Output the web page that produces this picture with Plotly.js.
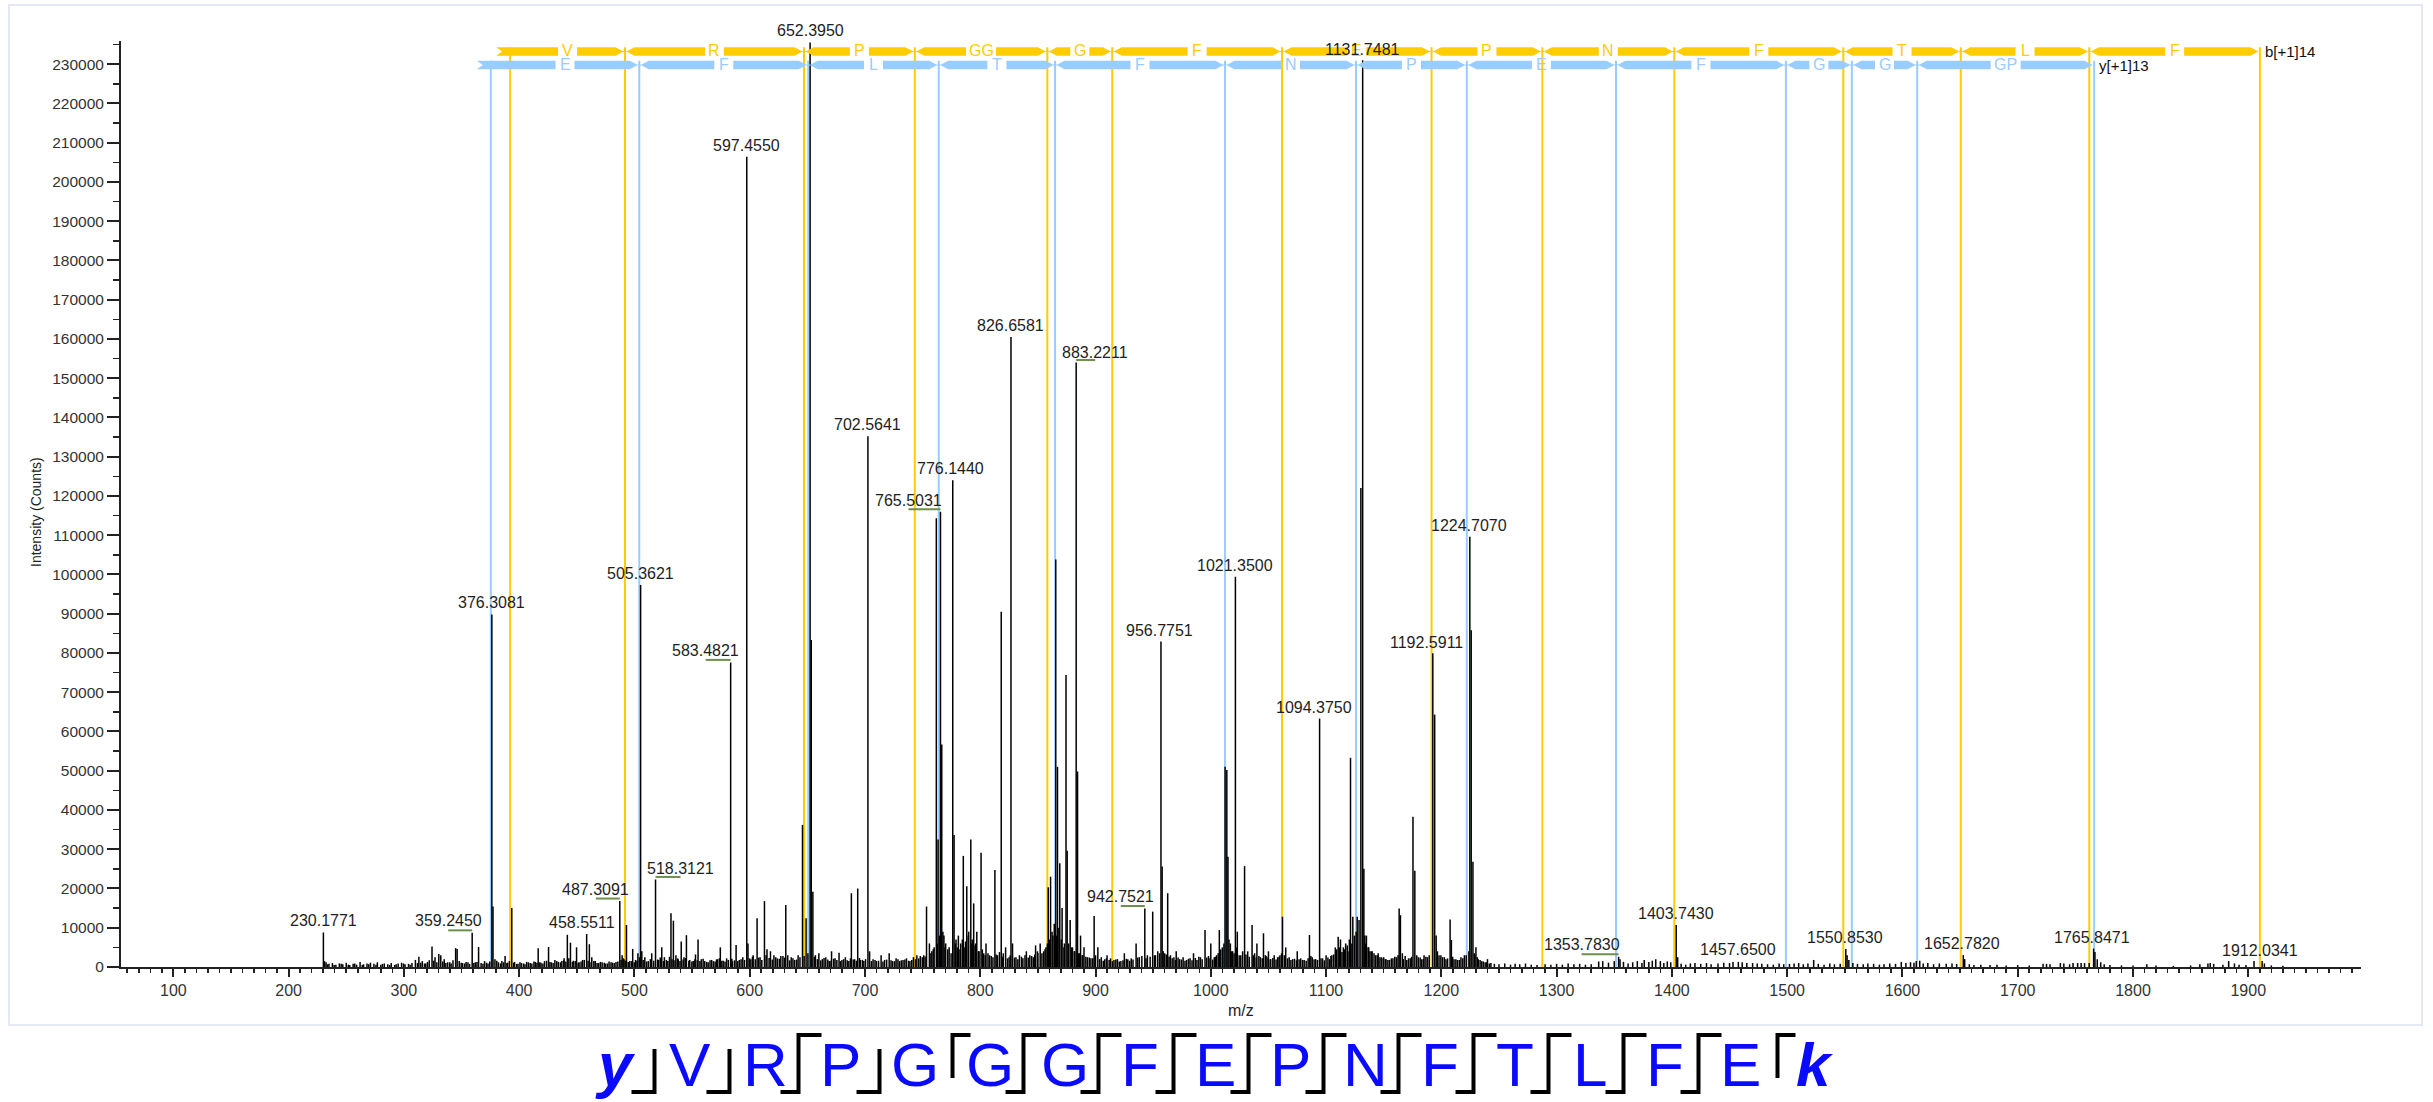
<!DOCTYPE html>
<html><head><meta charset="utf-8">
<script src="https://cdn.plot.ly/plotly-3.0.1.min.js"></script>
<style>html,body{margin:0;padding:0;background:#fff;}#chart{width:2433px;height:1102px;}</style>
</head><body><div id="chart"></div>
<script>
// ---------------- DATA ----------------
// labelled peaks (m/z as printed, intensity in counts)
const labelMz  = [230.1771,359.2450,376.3081,458.5511,487.3091,505.3621,518.3121,583.4821,597.4550,652.3950,702.5641,765.5031,776.1440,826.6581,883.2211,942.7521,956.7751,1021.3500,1094.3750,1131.7481,1192.5911,1224.7070,1353.7830,1403.7430,1457.6500,1550.8530,1652.7820,1765.8471,1912.0341];
const labelInt = [8800,8700,89800,8400,16800,97300,22300,77600,206400,235500,135200,116000,124000,160500,154000,14900,82900,99400,63300,231000,79900,109600,2600,10700,1300,4600,3050,4700,1500];
// other peaks
const peakMz  = [231.2,313.0,324.4,330.3,332.0,344.9,346.2,364.8,377.3,387.8,393.6,416.5,425.5,441.8,444.5,449.8,460.9,489.3,493.1,498.5,506.4,523.7,531.7,533.8,540.6,545.1,555.2,574.5,588.2,598.5,606.4,612.8,618,631.3,633,645.8,648.9,653.4,654.8,660,671,677.5,688.2,693.7,704,714,721,745,753.4,755.9,761.9,763.4,766.6,768.5,777.3,781,785.3,788.3,791.8,794.3,797,800.7,805,812.7,818.2,822,828,840,848,852,859,861,865.5,867,869,871,874.4,875.4,878,884.4,887,890,898.8,902,910,925,935.2,949.6,957.8,962.6,970,985,995,1000,1007.4,1012.4,1013.9,1014.9,1023,1029.3,1035.8,1040,1045.7,1050,1055,1062.2,1065,1075,1085.6,1100,1108,1110.5,1112.5,1115,1121.2,1123.2,1127,1130.2,1132.8,1135,1138,1145.2,1150,1163.4,1164.5,1175.4,1177,1185,1194.2,1195.5,1207.6,1208.7,1225.9,1227.4,1230,1240,1336.5,1355,1376,1386,1390,1405,1420,1470,1523,1552,1553.5,1612,1615,1654,1722,1737,1767,1769,1812,1867,1883,1905,1914];
const peakInt = [1500,2600,5200,3300,3000,4800,4600,5100,15400,2800,15000,4800,5100,8200,6200,5000,5800,3000,10700,4600,4000,5000,13700,11800,6500,8100,7000,5000,5600,6000,12400,16800,4000,15800,3000,36200,12400,83300,19200,3500,4000,3600,18800,20000,4000,3000,3500,3000,15400,6000,114300,32500,56700,8000,33600,8000,28300,20600,32500,16200,9000,29100,6000,24700,90500,5000,6000,4000,5500,6000,20300,23000,103800,51000,26400,15000,74400,29600,12000,49800,8000,5000,13000,5000,3000,3500,6000,14100,25600,18800,4000,3500,9400,6000,9400,51000,50200,28100,9000,25700,10700,6000,8600,4000,3000,12800,5000,4000,8150,3000,5000,7700,7000,5000,53300,12800,12800,122000,25000,8000,4000,3500,2500,14900,13200,38300,24500,3000,64300,8000,12100,6900,85800,26800,5000,2000,1400,2000,1800,2000,1500,2500,1000,1000,1800,3000,1800,1500,1600,2000,800,1000,3800,2000,700,1000,1500,1500,900];
// baseline grass (two interleaved readings)
const noiseMz = [232.5,235,238,241,244,247,250,253,256,259,262,265,268,271,274,277,280,283,286,289,292,295,298,301,304,307,310,316,319,322,327,335,338,341,348,351,354,357,362,367,370,373,379,382,385,390,396,399,402,405,408,411,414,419,422,428,431,434,437,439,447,452,455,463,466,469,472,475,478,481,484,491,496,501,503,509,512,515,521,526,529,536,538,543,548,551,553,558,561,564,567,570,572,577,580,585,591,594,601,603,609,615,621,624,627,636,639,642,657,663,666,669,674,680,683,686,691,696,699,707,710,717,724,727,730,733,736,739,742,748,751,758,760,770,773,779,783,786,790,793,796,799,803,808,811,815,820,825,831,834,837,843,846,850,855,857,863,873,880,882,886,889,893,896,900,905,908,913,916,919,922,928,931,938,945,952,954,960,965,968,973,976,979,982,988,991,998,1003,1005,1010,1017,1019,1026,1032,1038,1043,1048,1052,1058,1060,1068,1071,1078,1081,1088,1091,1097,1103,1105,1117,1119,1134,1137,1140,1143,1148,1152,1155,1158,1161,1167,1170,1173,1180,1183,1188,1198,1201,1204,1211,1214,1217,1220,1229,1232,1235,1238,1243,1246,1250,1255,1260,1264,1268,1273,1278,1283,1290,1295,1300,1305,1310,1315,1320,1325,1330,1340,1345,1350,1358,1362,1366,1370,1374,1380,1383,1393,1396,1399,1408,1412,1416,1425,1430,1434,1440,1445,1450,1453,1461,1465,1474,1478,1483,1488,1493,1497,1502,1506,1510,1514,1518,1527,1532,1537,1541,1546,1557,1561,1566,1570,1575,1580,1584,1589,1594,1599,1603,1607,1610,1618,1622,1627,1632,1638,1643,1647,1658,1662,1668,1676,1682,1690,1700,1710,1725,1728,1740,1745,1748,1752,1755,1758,1762,1772,1775,1780,1790,1800,1820,1835,1850,1858,1865,1870,1878,1888,1892,1898,1920,1930];
const noiseInt = [1200,800,1000,600,900,700,1100,500,800,600,1300,700,900,1100,800,1200,600,900,700,1000,500,900,1100,700,800,1000,1800,1500,900,1700,2500,2000,1200,900,1500,1000,1300,800,1200,1000,1500,900,2000,1200,1500,1100,1300,800,1000,700,1200,900,1300,1100,1500,1200,1800,1300,1500,2200,1600,1200,1800,2500,1500,1000,1200,900,1400,1100,1300,2000,1500,1800,3500,2500,1500,3500,1800,2500,1500,3000,2000,2500,1800,1500,3200,2000,1500,1200,1800,1400,2000,1600,2200,1500,1800,2500,2000,3000,2500,4500,3000,2200,2800,2500,1800,3000,3000,2000,2500,1500,2200,1800,2500,1500,2000,1800,1500,2000,1500,1800,1500,2200,1500,1800,2200,1500,2500,2800,3000,4000,5000,6000,5000,7000,6000,5000,9000,7000,6000,4000,3500,3000,2500,3000,3500,2500,2500,3000,2200,3000,2500,3500,4000,5000,8000,6000,5000,4000,3500,3000,2500,2200,3000,2500,2000,2200,1800,2000,1500,2000,2200,2500,3000,3000,4000,3500,3000,2500,2000,2500,1800,2200,1800,2500,2800,2500,3000,5000,6000,4000,3000,4000,3500,2500,2800,2000,2500,3000,2500,2000,2200,1800,2500,2000,2200,2000,3000,6000,4000,6000,5000,4000,3000,2500,2000,1800,2200,2500,2000,1800,2200,2500,2000,2500,3000,2500,2000,2000,1800,2500,3000,3000,2000,1500,1200,1000,800,700,900,600,800,700,900,600,500,700,600,800,600,900,700,800,600,700,1500,1100,1500,1300,900,1200,1500,1000,1300,1600,1000,1400,1200,800,600,900,800,1000,700,900,1100,1000,1300,1200,1000,900,800,700,600,900,700,800,900,1000,700,900,800,600,900,700,800,1000,800,700,900,800,600,700,900,800,1300,1000,1200,1100,900,1000,700,900,800,900,800,700,500,600,500,600,400,500,400,800,700,900,700,1000,1000,1000,1000,1000,1200,700,500,400,400,400,300,400,700,900,800,600,900,600,500,400,300];
const noise2Mz = [233.7,239.5,245.6,251.8,257.4,263.9,269.5,275.8,281.4,287.6,293.3,299.7,305.4,311.8,
 314.6,317.9,320.5,325.8,328.6,333.7,336.4,339.8,342.6,349.7,352.8,355.6,360.7,363.4,368.6,371.7,374.5,380.6,383.8,386.5,389.4,391.5,395.2,397.8,400.7,403.8,406.5,409.6,412.8,415.4,417.9,420.6,423.8,426.7,429.5,432.6,435.8,438.6,440.5,443.1,446.2,448.6,451.2,453.7,456.5,459.8,462.4,464.8,467.6,470.5,473.8,476.6,479.7,482.5,485.6,488.4,490.2,492.3,494.6,497.6,499.9,
 502.2,504.4,507.6,510.5,513.8,516.7,520.1,522.4,525.2,527.7,530.4,532.6,535.2,537.4,539.5,542.2,544.4,547.2,549.8,552.4,554.5,556.8,559.6,562.7,565.6,568.5,571.2,573.6,575.8,578.6,581.5,584.5,586.8,589.6,592.5,595.5,599.8,602.4,604.8,607.7,610.5,614.2,616.8,619.6,622.6,625.7,628.8,630.2,634.6,637.5,640.7,643.6,647.2,650.5,656.2,658.7,661.6,664.5,667.7,670.5,672.8,675.6,678.7,681.5,684.6,687.4,689.8,692.5,695.2,697.8,700.5,705.6,708.7,711.8,715.6,718.8,722.6,725.7,728.6,731.5,734.6,737.8,740.6,743.8,746.6,749.7,752.2,
 757.2,759.2,762.8,764.6,767.6,769.4,771.8,774.7,778.4,780.2,782.4,784.5,787.2,789.6,792.7,795.5,798.4,801.8,804.3,806.7,809.5,813.8,816.7,819.4,823.6,826.0,829.7,832.6,835.8,838.8,841.6,844.6,847.3,849.6,853.5,856.2,858.2,860.2,862.3,864.2,866.3,868.2,870.3,872.6,876.6,879.2,881.5,885.4,888.4,891.6,894.6,897.6,899.8,
 903.6,906.7,909.5,911.8,914.6,917.6,920.6,923.8,926.7,929.6,932.5,936.6,940.2,943.8,947.4,951.2,955.6,958.7,961.4,963.8,966.5,969.4,971.6,974.6,977.6,980.6,983.7,986.6,989.6,992.5,996.5,999.3,1001.6,1004.2,1006.4,1008.6,1011.4,1015.8,1018.2,1020.2,1022.4,1024.6,1027.6,1030.5,1033.4,1036.8,1039.4,1041.7,1044.6,1047.3,1049.6,1051.5,1053.8,1056.6,1059.2,1061.4,1063.8,1066.6,1069.5,1072.6,1074.3,1076.6,1079.6,1082.7,1084.4,1086.8,1089.6,1092.6,1095.6,1098.5,1101.6,1104.2,1106.6,1109.2,1111.6,1113.8,1116.2,1118.4,1120.2,1122.4,1124.6,1126.1,1128.6,
 1133.6,1136.4,1139.2,1141.6,1144.4,1146.7,1149.5,1151.4,1153.6,1156.6,1159.6,1162.4,1166.2,1168.6,1171.5,1174.2,1178.6,1181.6,1184.4,1186.6,1189.5,1196.6,1199.6,1202.6,1205.4,1209.8,1212.6,1215.6,1218.6,1221.6,1223.9,1228.6,1231.2,1233.6,1236.4,1239.2,1241.6];
const noise2Int = [700,500,800,600,900,500,700,600,800,500,700,900,600,1000,
 1100,900,1300,1600,1200,1400,1000,1200,1700,1100,900,1200,1000,1300,800,1100,1400,1600,900,1200,1000,1500,1100,800,1200,900,1300,1000,1400,1100,1200,900,1600,1300,1000,1500,1200,1700,1400,2200,1300,1500,1100,1400,1800,1600,1200,1500,1000,1300,1100,900,1200,1000,1400,1800,2200,1600,1300,1500,1200,
 1600,2500,1800,1400,2000,1600,1900,2400,1500,1800,2600,2000,1700,2200,1500,1900,2300,1600,1400,2000,1700,1500,2100,1300,1700,1500,1900,2200,1600,1400,1800,2100,1700,1500,2000,1800,2200,2600,2000,2400,1800,3000,2300,1900,2500,2100,2800,2400,1700,2200,1900,2500,2800,3500,2600,2000,1700,2300,1900,1600,2100,1800,1500,2000,1700,2200,1900,1600,2300,1800,2000,1500,1800,1600,1400,1900,1700,1500,2000,1700,1900,1600,1800,2000,2200,2500,2700,
 3500,4500,6000,8000,9000,5000,4500,3500,6000,5000,4500,7000,6500,8000,6000,5500,4000,4500,3000,3500,2800,3200,3800,2600,2200,3000,2400,2000,2600,3000,2400,2800,3200,4000,3500,4500,6000,7000,9000,11000,8000,10000,7000,5000,6000,5000,4000,3500,3000,2600,2400,2200,2600,
 2000,1600,2200,1800,1500,1900,1400,1700,2100,1600,1900,2400,2800,2200,2600,3000,3500,4000,3200,2600,2200,1800,2400,1900,1600,2100,1700,2300,2600,2000,2400,2200,1900,2600,3500,4500,6000,7000,4000,3500,5000,3000,4000,3200,2600,3000,2400,2800,2200,3000,2500,2000,2300,1900,2600,3500,3000,2200,1800,2100,1700,2000,1800,1600,2200,2800,2000,1800,2200,1700,2400,2800,3200,4500,5000,3800,4500,5500,7000,6000,8000,9000,12000,
 8000,5000,4000,3500,3000,2500,2200,2000,1800,2200,2600,3000,3500,2800,2200,2600,3000,2400,2000,2600,3000,4000,3000,2500,2200,2600,2000,1800,2200,3000,4000,3500,2500,1800,1400,1200,900];
// fragment ladders
const bIonMz   = [392.2,491.8,647.1,743.2,858.2,914.5,1061.8,1191.5,1287.6,1402.1,1548.7,1650.6,1762.1,1910.1];
const bResidue = ['V','R','P','GG','G','F','E','P','N','F','T','L','F'];
const yIonMz   = [375.4,504.2,650.8,764.0,864.9,1012.3,1126.0,1222.1,1351.5,1498.9,1556.1,1612.8,1766.3];
const yResidue = ['E','F','L','T','F','N','P','E','F','G','G','GP'];
const bLadderLabel = 'b[+1]14';
const yLadderLabel = 'y[+1]13';
// peptide sequence and cleavage marks between residues
const sequence = ['y','V','R','P','G','G','G','F','E','P','N','F','T','L','F','E','k'];
const cleavage = ['y','y','by','y','b','by','by','by','by','by','by','by','by','by','by','b'];
const xTitle = 'm/z';
const yTitle = 'Intensity (Counts)';

// ---------------- LAYOUT GEOMETRY ----------------
const W=2433,H=1102,ML=121,MR=72,MT=41,MB=135;
const PW=W-ML-MR, PH=H-MT-MB;
const XR=[54.6,1997.8], YR=[0,235900];
const pxPerMz = PW/(XR[1]-XR[0]);
const cntPerPx = (YR[1]-YR[0])/PH;
const pxOfMz = m => ML+(m-XR[0])*pxPerMz;
const mzOfPx = p => XR[0]+(p-ML)/pxPerMz;
const paperX = p => (p-ML)/PW;
const paperY = p => (H-MB-p)/PH;
const FONT = 'Arial, "Liberation Sans", Helvetica, sans-serif';
const YEL='#ffcc00', BLU='#99ccff';

// ---------------- SPECTRUM TRACE ----------------
const xs=[], ys=[];
function addSticks(mz, it){ for(let i=0;i<mz.length;i++){ xs.push(mz[i],mz[i],null); ys.push(0,it[i],null);} }
addSticks(noiseMz, noiseInt);
addSticks(noise2Mz, noise2Int);
addSticks(peakMz, peakInt);
addSticks(labelMz, labelInt);
const traces=[{type:'scatter',mode:'lines',x:xs,y:ys,line:{color:'#000',width:1.5},hoverinfo:'skip',showlegend:false}];

const shapes=[], annotations=[];
// panel border
shapes.push({type:'rect',xref:'paper',yref:'paper',x0:paperX(9),x1:paperX(2422),y0:paperY(1025),y1:paperY(5),line:{color:'#e3e9f2',width:2},fillcolor:'rgba(0,0,0,0)',layer:'below'});

// ---------------- LADDERS ----------------
function ptsPath(pts){ return 'M '+pts.map(p=>mzOfPx(p[0]).toFixed(3)+','+paperY(p[1]).toFixed(5)).join(' L ')+' Z'; }
function drawRow(ions, res, color, top, bot, lineTop, label, labelDx){
  const yc=(top+bot)/2, t=8;
  ions.forEach(m=>shapes.push({type:'line',xref:'x',yref:'paper',x0:m,x1:m,y0:0,y1:paperY(lineTop),line:{color:color,width:2},layer:'below'}));
  for(let i=0;i<res.length;i++){
    const a=pxOfMz(ions[i]), b=pxOfMz(ions[i+1]), mid=(a+b)/2, half=5.5*res[i].length+4;
    let left;
    if(i===0){ const s=a-14; left=[[s,top],[mid-half,top],[mid-half,bot],[s,bot],[s+6,yc]]; }
    else { left=[[a+1.5,yc],[a+1.5+t,top],[mid-half,top],[mid-half,bot],[a+1.5+t,bot]]; }
    const right=[[mid+half,top],[b-1.5-t,top],[b-1.5,yc],[b-1.5-t,bot],[mid+half,bot]];
    shapes.push({type:'path',xref:'x',yref:'paper',path:ptsPath(left),fillcolor:color,line:{width:0}});
    shapes.push({type:'path',xref:'x',yref:'paper',path:ptsPath(right),fillcolor:color,line:{width:0}});
    if(i>0) shapes.push({type:'line',xref:'x',yref:'paper',x0:mzOfPx(a-2),x1:mzOfPx(a+2),y0:paperY(yc),y1:paperY(yc),line:{color:color,width:1}});
    annotations.push({xref:'x',yref:'paper',x:mzOfPx(mid),y:paperY(yc-0.5),text:res[i],showarrow:false,xanchor:'center',yanchor:'middle',font:{family:FONT,size:16,color:color}});
  }
  const last=pxOfMz(ions[ions.length-1]);
  annotations.push({xref:'paper',yref:'paper',x:paperX(last+labelDx),y:paperY(yc),text:label,showarrow:false,xanchor:'left',yanchor:'middle',font:{family:FONT,size:15,color:'#111'}});
}
drawRow(bIonMz,bResidue,YEL,47.2,55.8,47.2,bLadderLabel,3);
drawRow(yIonMz,yResidue,BLU,60.8,69.2,60.8,yLadderLabel,3);

// ---------------- PEAK LABELS ----------------
const labelDx = [0,-24,0,-5,-24,0,25,-25,0,0,0,-32,-2,0,19,-24,-1,0,-6,0,-6,-1,-37,0,0,-1,-1,-2,-2];
const labelDy = [12,12,12.5,11.5,12,12,10.5,11.5,11.5,12,12,11,11.5,11.5,10,12,11,11,11.5,11,11,11.5,12,11.5,12,11.5,11.5,11.5,10.5];
for(let i=0;i<labelMz.length;i++){
  annotations.push({xref:'x',yref:'y',x:labelMz[i],y:labelInt[i],xshift:labelDx[i],yshift:labelDy[i],text:labelMz[i].toFixed(4),showarrow:false,xanchor:'center',yanchor:'middle',font:{family:FONT,size:16,color:'#1e1e1e'}});
  if(Math.abs(labelDx[i])>10){
    const y0=labelInt[i]+2.5*cntPerPx;
    shapes.push({type:'line',xref:'x',yref:'y',x0:labelMz[i],x1:labelMz[i]+labelDx[i]/pxPerMz,y0:y0,y1:y0,line:{color:'#6e8f4e',width:2}});
  }
}

// ---------------- AXIS TITLES ----------------
annotations.push({xref:'paper',yref:'paper',x:paperX(1241),y:paperY(1010),text:xTitle,showarrow:false,xanchor:'center',yanchor:'middle',font:{family:FONT,size:16,color:'#222'}});
annotations.push({xref:'paper',yref:'paper',x:paperX(36),y:paperY(512),text:yTitle,textangle:-90,showarrow:false,xanchor:'center',yanchor:'middle',font:{family:FONT,size:14,color:'#222'}});

// ---------------- SEQUENCE ----------------
const seqX0=615, seqStep=75, seqY=1064;
sequence.forEach((s,i)=>{
  const flank=(i===0||i===sequence.length-1);
  annotations.push({xref:'paper',yref:'paper',x:paperX(seqX0+seqStep*i),y:paperY(seqY),text:s,showarrow:false,xanchor:'center',yanchor:'middle',
    font:{family:FONT,size:62,color:'#0a0aff',weight:flank?'bold':'normal',style:flank?'italic':'normal'}});
});
function pathPaper(pts){ return 'M '+pts.map(p=>paperX(p[0]).toFixed(5)+','+paperY(p[1]).toFixed(5)).join(' L '); }
cleavage.forEach((c,g)=>{
  const cx=seqX0+seqStep*(g+0.5);
  let pts;
  if(c==='y') pts=[[cx-21,1092],[cx+2,1092],[cx+2,1049]];
  else if(c==='b') pts=[[cx,1078],[cx,1035],[cx+18,1035]];
  else pts=[[cx-22,1092],[cx-4,1092],[cx-4,1035],[cx+19,1035]];
  shapes.push({type:'path',xref:'paper',yref:'paper',path:pathPaper(pts),line:{color:'#000',width:4}});
});

// ---------------- LAYOUT ----------------
const layout={
  width:W,height:H,margin:{l:ML,r:MR,t:MT,b:MB,pad:0},
  paper_bgcolor:'#fff',plot_bgcolor:'#fff',showlegend:false,
  font:{family:FONT,size:16,color:'#333'},
  xaxis:{range:XR,showgrid:false,zeroline:false,showline:true,linecolor:'#222',linewidth:2,
    ticks:'outside',tickmode:'linear',tick0:0,dtick:100,ticklen:8,tickwidth:2,tickcolor:'#222',
    tickfont:{family:FONT,size:16,color:'#333'},
    minor:{dtick:10,tick0:0,ticks:'outside',ticklen:4,tickwidth:1.5,tickcolor:'#222'}},
  yaxis:{range:YR,showgrid:false,zeroline:false,showline:true,linecolor:'#222',linewidth:2,
    ticks:'outside',tickmode:'linear',tick0:0,dtick:10000,ticklen:12,tickwidth:2,tickcolor:'#222',tickformat:'d',
    tickfont:{family:FONT,size:15.5,color:'#333'},
    minor:{dtick:5000,tick0:0,ticks:'outside',ticklen:6,tickwidth:1.5,tickcolor:'#222'}},
  shapes:shapes,annotations:annotations
};
Plotly.newPlot('chart',traces,layout,{displayModeBar:false,staticPlot:true});
</script></body></html>
